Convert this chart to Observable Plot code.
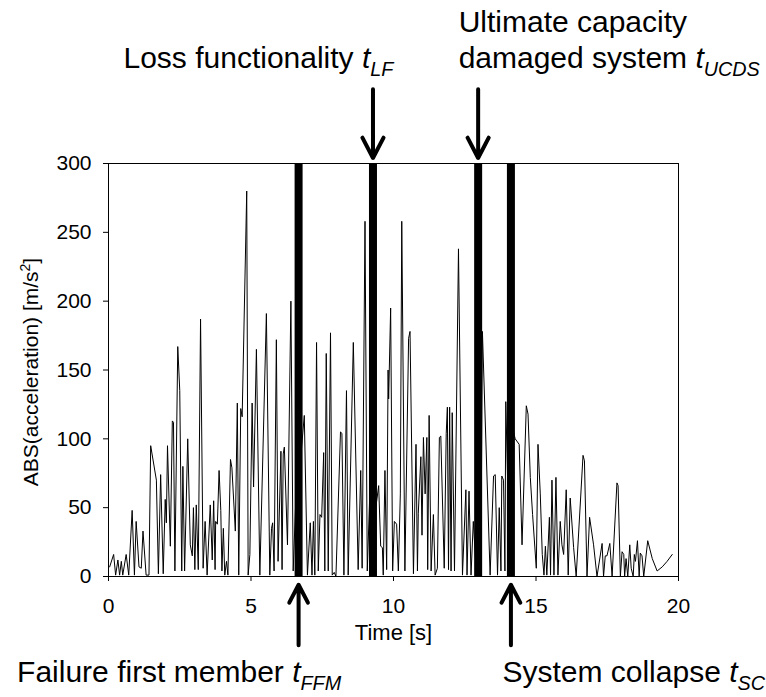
<!DOCTYPE html>
<html><head><meta charset="utf-8">
<script src="https://cdn.jsdelivr.net/npm/d3@7"></script>
<script src="https://cdn.jsdelivr.net/npm/@observablehq/plot@0.6"></script>
<style>body{margin:0;background:#fff}</style>
</head><body><div id="chart"></div>
<script>
const time = [0.04,0.18,0.25,0.33,0.39,0.45,0.50,0.62,0.71,0.83,0.91,0.97,1.07,1.15,1.21,1.32,1.42,1.48,1.68,1.75,1.83,1.92,1.99,2.03,2.07,2.17,2.24,2.28,2.33,2.43,2.50,2.57,2.61,2.67,2.78,2.87,2.94,2.98,3.03,3.08,3.15,3.23,3.32,3.39,3.46,3.57,3.64,3.69,3.74,3.76,3.82,3.88,3.94,3.98,4.03,4.08,4.14,4.19,4.28,4.33,4.45,4.52,4.57,4.64,4.69,4.85,4.90,4.96,5.04,5.09,5.19,5.31,5.54,5.66,5.72,5.76,5.81,5.89,5.95,6.05,6.09,6.13,6.17,6.28,6.40,6.48,6.58,6.66,6.76,6.87,6.98,7.08,7.14,7.19,7.24,7.30,7.36,7.42,7.48,7.55,7.59,7.64,7.71,7.79,7.85,7.92,7.98,8.14,8.19,8.26,8.35,8.41,8.59,8.76,8.85,8.90,9.00,9.08,9.20,9.30,9.38,9.48,9.55,9.61,9.64,9.70,9.76,9.81,9.83,9.90,9.97,10.03,10.11,10.17,10.24,10.29,10.40,10.53,10.58,10.70,10.79,10.84,10.87,10.96,11.00,11.05,11.11,11.17,11.20,11.25,11.32,11.40,11.46,11.54,11.61,11.66,11.78,11.85,11.89,11.93,11.97,12.02,12.06,12.14,12.28,12.42,12.54,12.58,12.65,12.72,12.80,12.90,13.00,13.07,13.12,13.39,13.51,13.57,13.65,13.71,13.77,13.80,13.86,13.91,13.94,14.05,14.15,14.27,14.41,14.51,14.66,14.72,14.80,14.88,15.01,15.07,15.15,15.22,15.28,15.33,15.38,15.47,15.51,15.56,15.63,15.70,15.77,15.85,15.91,15.97,16.06,16.13,16.20,16.32,16.41,16.65,16.70,16.79,16.88,17.02,17.14,17.32,17.37,17.43,17.49,17.59,17.67,17.84,17.88,17.96,18.02,18.08,18.11,18.16,18.22,18.29,18.34,18.41,18.45,18.49,18.56,18.62,18.66,18.72,18.78,18.92,19.08,19.25,19.43,19.60,19.78];
const accel = [7,16,1,12,1,11,1,16,1,48,1,40,7,6,33,1,1,95,70,2,74,2,56,39,95,22,113,112,4,167,135,4,80,4,100,23,15,50,5,52,5,187,6,40,1,52,12,55,5,40,38,77,48,4,35,1,11,1,85,79,33,126,1,122,116,280,1,16,126,65,165,1,191,1,35,39,4,172,11,91,5,89,94,23,200,4,60,5,90,117,1,39,1,40,1,170,4,45,43,90,4,162,4,177,1,3,0,105,104,1,135,1,170,5,77,6,258,4,80,10,50,66,22,21,1,77,5,150,129,195,4,40,38,4,60,258,4,173,178,2,96,4,46,87,30,101,60,101,5,117,4,45,1,6,101,102,6,104,123,5,123,4,119,4,238,1,63,1,62,1,40,5,80,20,178,1,73,74,1,50,4,73,70,4,127,30,110,100,96,23,124,118,72,45,6,96,60,16,1,22,1,43,1,70,1,72,1,40,23,16,63,1,57,21,0,88,84,0,43,23,0,24,0,15,15,24,0,68,66,0,18,16,0,13,0,23,6,0,16,11,26,0,17,15,0,26,13,4,7,11,16];

const eventKeys = ["FFM", "LF", "UCDS", "SC"];
const eventTimes = [6.67, 9.28, 12.97, 14.12];
const eventNames = ["Failure first member", "Loss functionality", "Ultimate capacity|damaged system", "System collapse"];
const xTicks = [0, 5, 10, 15, 20];
const yTicks = [0, 50, 100, 150, 200, 250, 300];
const xLabel = "Time [s]";
const yLabelMain = "ABS(acceleration) [m/s";
const yLabelSup = "2";
const yLabelEnd = "]";

const series = time.map((t, i) => ({t, a: accel[i]}));
const events = eventKeys.map((k, i) => ({key: k, t: eventTimes[i], name: eventNames[i]}));
const downEvents = events.filter(e => e.key === "LF" || e.key === "UCDS");
const upEvents = events.filter(e => e.key === "FFM" || e.key === "SC");

const FONT = "'Liberation Sans', Arial, Helvetica, sans-serif";

const plot = Plot.plot({
  width: 766, height: 697,
  marginLeft: 108, marginRight: 88, marginTop: 163, marginBottom: 121,
  style: {fontFamily: FONT, fontSize: "21px", color: "#000", background: "#fff", overflow: "visible"},
  x: {domain: [0, 20], ticks: xTicks, label: null},
  y: {domain: [0, 300], ticks: yTicks, label: null},
  marks: [
    Plot.line(series, {x: "t", y: "a", stroke: "#000", strokeWidth: 1}),
    Plot.ruleX(events, {x: "t", stroke: "#000", strokeWidth: 8}),
    Plot.frame({stroke: "#000", strokeWidth: 1}),
    Plot.axisX({ticks: xTicks, tickSize: 5, tickPadding: 17, fontSize: 21, label: null}),
    Plot.axisY({ticks: yTicks, tickSize: 5, tickPadding: 12, fontSize: 21, label: null}),
    Plot.text([xLabel], {frameAnchor: "bottom", dy: 56, fontSize: 22, lineAnchor: "middle"}),
    Plot.arrow(downEvents, {x1: "t", x2: "t", y1: () => 354, y2: () => 304, stroke: "#000", strokeWidth: 4, headLength: 8.6, headAngle: 55}),
    Plot.arrow(upEvents, {x1: "t", x2: "t", y1: () => -50, y2: () => -6, stroke: "#000", strokeWidth: 4, headLength: 8.6, headAngle: 55})
  ]
});
document.getElementById("chart").appendChild(plot);

const svg = d3.select(plot);
const xs = plot.scale("x");

// rotated y-axis title with superscript
const yt = svg.append("text")
  .attr("transform", "translate(31,372) rotate(-90)")
  .attr("text-anchor", "middle").attr("dy", "0.35em")
  .attr("font-family", FONT).attr("font-size", 21).attr("fill", "#000");
yt.append("tspan").text(yLabelMain);
yt.append("tspan").attr("font-size", 14).attr("dy", -8).text(yLabelSup);
yt.append("tspan").attr("dy", 8).text(yLabelEnd);

const SIZE = 30;
function annot(x, y, anchor, plain, sub) {
  const t = svg.append("text").attr("x", x).attr("y", y).attr("text-anchor", anchor)
    .attr("font-family", FONT).attr("font-size", SIZE).attr("fill", "#000");
  t.append("tspan").text(sub ? plain + " " : plain);
  if (sub) {
    t.append("tspan").attr("font-style", "italic").text("t");
    t.append("tspan").attr("font-style", "italic").attr("font-size", SIZE * 0.66).attr("dy", SIZE * 0.25).text(sub);
  }
}
const ev = Object.fromEntries(events.map(e => [e.key, e]));
annot(xs.apply(ev.LF.t) - 249, 68, "start", ev.LF.name, "LF");
const ucds = ev.UCDS.name.split("|");
annot(xs.apply(ev.UCDS.t) - 19, 32, "start", ucds[0], null);
annot(xs.apply(ev.UCDS.t) - 19, 68, "start", ucds[1], "UCDS");
annot(xs.apply(ev.FFM.t) - 281, 682, "start", ev.FFM.name, "FFM");
annot(xs.apply(ev.SC.t) - 8, 682, "start", ev.SC.name, "SC");
</script>
</body></html>
